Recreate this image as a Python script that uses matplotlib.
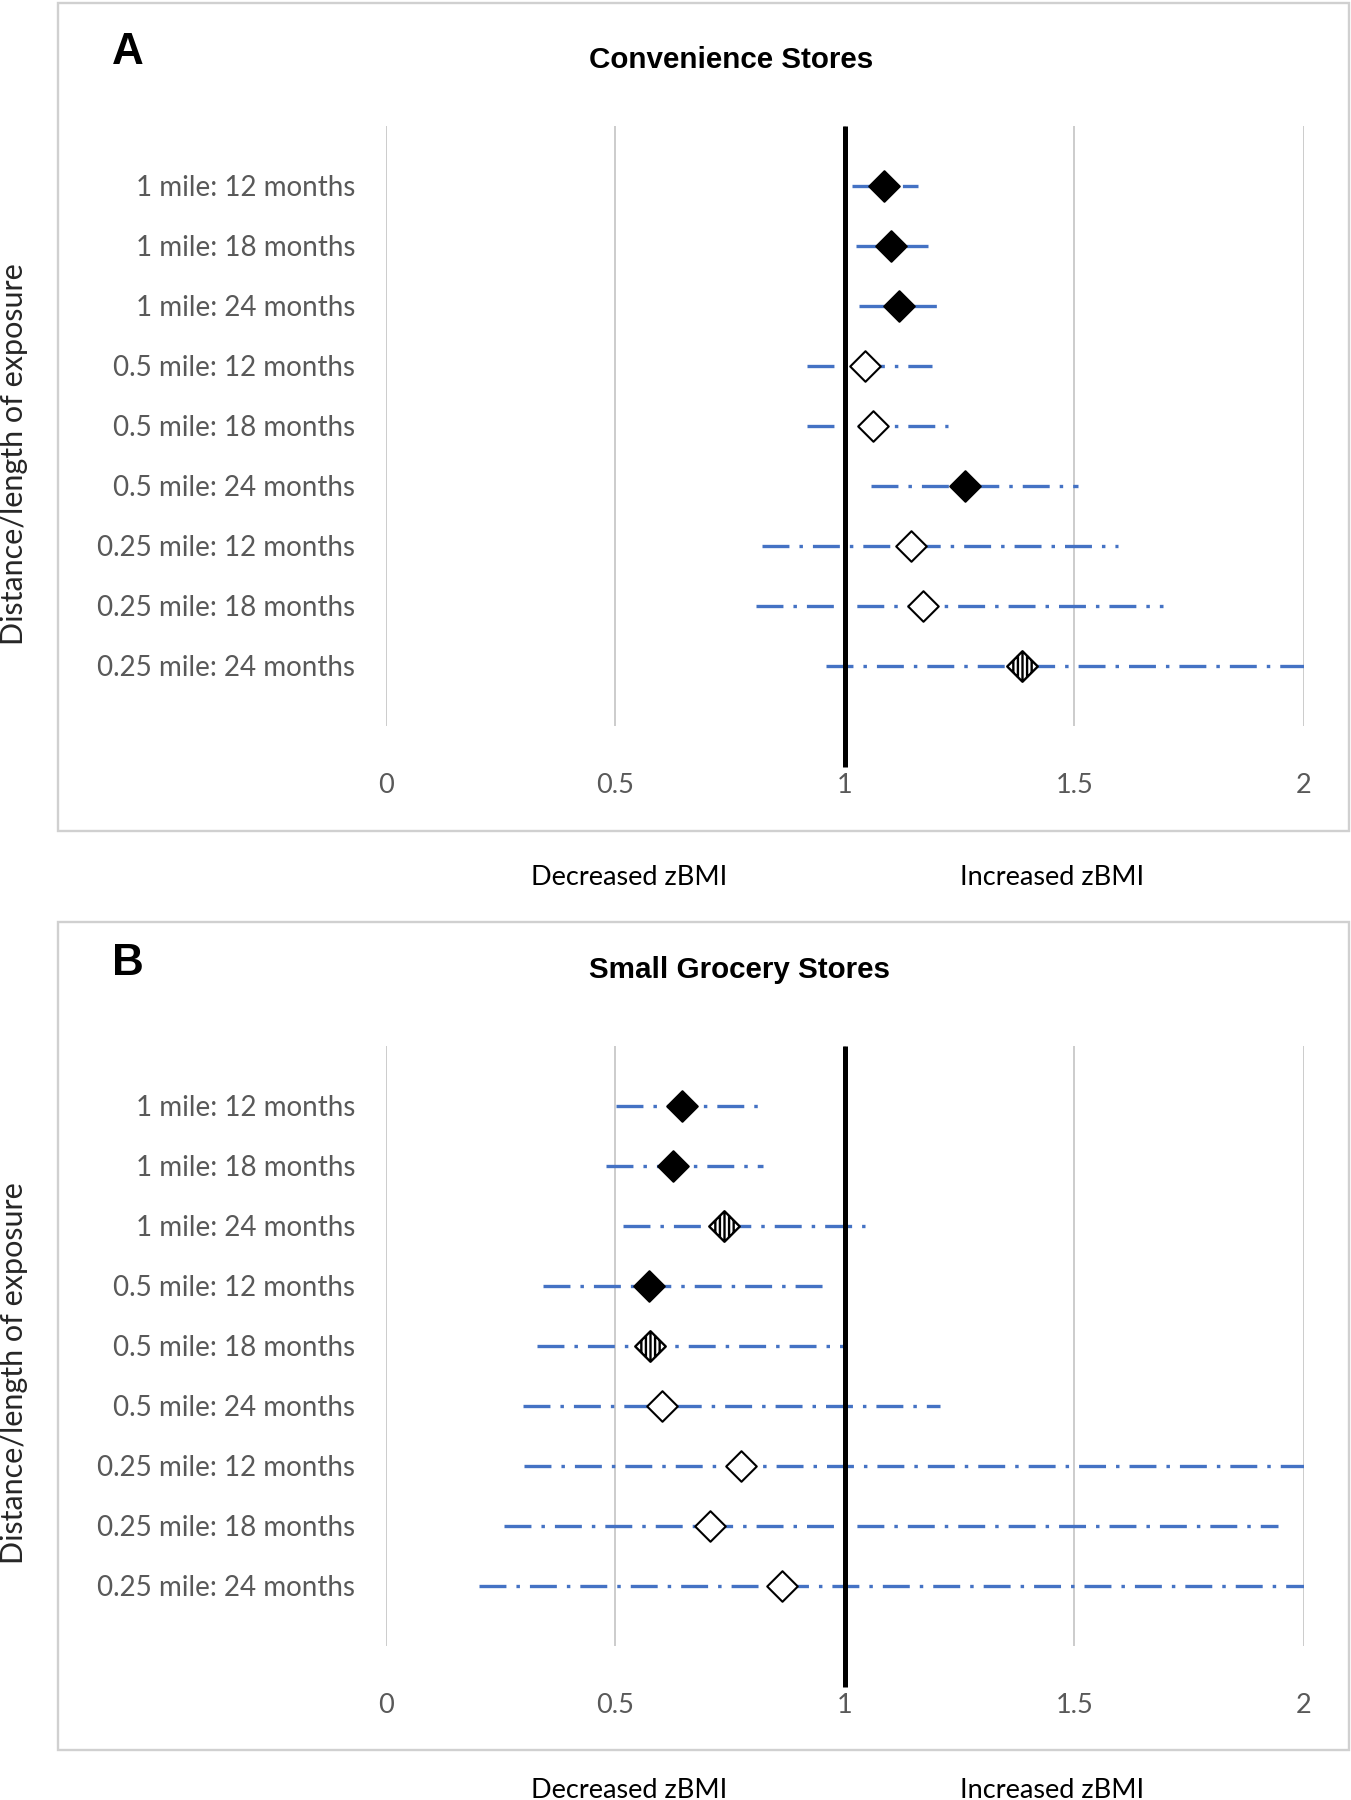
import numpy as np
import matplotlib.pyplot as plt
from matplotlib.path import Path
from matplotlib.markers import MarkerStyle
from matplotlib.patches import Rectangle

plt.rcParams['font.family'] = ['Lato', 'DejaVu Sans']
plt.rcParams['lines.scale_dashes'] = False

categories = ['1 mile: 12 months', '1 mile: 18 months', '1 mile: 24 months',
              '0.5 mile: 12 months', '0.5 mile: 18 months', '0.5 mile: 24 months',
              '0.25 mile: 12 months', '0.25 mile: 18 months', '0.25 mile: 24 months']

# panel A: convenience stores
conv_est = [1.086, 1.100, 1.118, 1.045, 1.061, 1.262, 1.144, 1.170, 1.387]
conv_lo = [1.015, 1.025, 1.032, 0.918, 0.918, 1.057, 0.819, 0.807, 0.960]
conv_hi = [1.160, 1.181, 1.201, 1.190, 1.225, 1.508, 1.596, 1.693, 2.0]
conv_sig = ['filled', 'filled', 'filled', 'open', 'open', 'filled', 'open', 'open', 'hatched']

# panel B: small grocery stores
groc_est = [0.645, 0.627, 0.736, 0.574, 0.575, 0.601, 0.775, 0.706, 0.864]
groc_lo = [0.501, 0.479, 0.516, 0.343, 0.329, 0.299, 0.302, 0.258, 0.203]
groc_hi = [0.830, 0.821, 1.044, 0.953, 1.0, 1.207, 2.0, 1.943, 2.0]
groc_sig = ['filled', 'filled', 'hatched', 'filled', 'hatched', 'open', 'open', 'open', 'open']

xticks = [0, 0.5, 1, 1.5, 2]
xtick_labels = ['0', '0.5', '1', '1.5', '2']

W, H = 1351, 1800
fig = plt.figure(figsize=(W / 100, H / 100), dpi=100)


def fx(px):
    return px / W


def fy(py):
    return 1 - py / H


# diamond markers, plain and with vertical stripes
dverts = [(0, 1), (1, 0), (0, -1), (-1, 0), (0, 1)]
dcodes = [Path.MOVETO, Path.LINETO, Path.LINETO, Path.LINETO, Path.CLOSEPOLY]
diamond = Path(dverts, dcodes)
hverts, hcodes = list(dverts), list(dcodes)
for sx in [-0.6, -0.3, 0, 0.3, 0.6]:
    hverts += [(sx, -(1 - abs(sx))), (sx, 1 - abs(sx))]
    hcodes += [Path.MOVETO, Path.LINETO]
hatched = Path(hverts, hcodes)
styles = {'filled': (diamond, 'black', 1.5), 'open': (diamond, 'white', 1.5),
          'hatched': (hatched, 'white', 1.7)}

blue = '#4472C4'
grey_txt = '#595959'
dashdot = (0, (19.4, 7.2, 2.5, 7.2))

panels = [
    dict(letter='A', title='Convenience Stores', title_x=731, title_base=68.5, letter_base=63.5,
         box=(3.3, 831), ax_top=126, ylab_y=454.5, note_base=885,
         est=conv_est, lo=conv_lo, hi=conv_hi, sig=conv_sig),
    dict(letter='B', title='Small Grocery Stores', title_x=739.5, title_base=978, letter_base=975,
         box=(921.7, 1750), ax_top=1046, ylab_y=1373, note_base=1798,
         est=groc_est, lo=groc_lo, hi=groc_hi, sig=groc_sig),
]

for p in panels:
    # chart border
    b0, b1 = p['box']
    fig.add_artist(Rectangle((fx(58.3), fy(b1)), (1348.7 - 58.3) / W, (b1 - b0) / H,
                             transform=fig.transFigure, fill=False, ec='#D0D0D0', lw=1.7))

    top = p['ax_top']
    ax = fig.add_axes([fx(385.7), fy(top + 600), (1303.7 - 385.7) / W, 600 / H])
    ax.set_xlim(0, 2)
    ax.set_ylim(0, 10)
    for s in ax.spines.values():
        s.set_visible(False)
    ax.set_xticks(xticks)
    ax.set_xticklabels(xtick_labels)
    ax.grid(axis='x', color='#CCCCCC', lw=1.4)
    ax.set_axisbelow(True)
    yk = np.arange(len(categories), 0, -1)
    ax.set_yticks(yk)
    ax.set_yticklabels(categories)
    ax.tick_params(axis='x', length=0, pad=34, labelsize=19.5, labelcolor=grey_txt)
    ax.tick_params(axis='y', length=0, pad=22, labelsize=20.0, labelcolor=grey_txt)

    for i in range(len(categories)):
        ax.plot([p['lo'][i], p['hi'][i]], [yk[i], yk[i]], color=blue, lw=2.4,
                ls=dashdot, dash_capstyle='butt', zorder=2)
    ax.plot([1, 1], [10, -0.69], color='black', lw=3.6, clip_on=False,
            solid_capstyle='butt', zorder=3)
    for i in range(len(categories)):
        path, face, ew = styles[p['sig'][i]]
        ax.plot(p['est'][i], yk[i], ls='none', marker=MarkerStyle(path, joinstyle='miter'),
                ms=22, mfc=face, mec='black', mew=ew, zorder=4)

    fig.text(fx(128), fy(p['letter_base']), p['letter'], ha='center', va='baseline',
             family='Liberation Sans', weight='bold', fontsize=31.7)
    fig.text(fx(p['title_x']), fy(p['title_base']), p['title'], ha='center', va='baseline',
             family='Liberation Sans', weight='bold', fontsize=21.3)
    fig.text(fx(14), fy(p['ylab_y']), 'Distance/length of exposure', rotation=90,
             ha='center', va='center', fontsize=22, color='#262626')
    fig.text(fx(629), fy(p['note_base']), 'Decreased zBMI', ha='center', va='baseline',
             fontsize=19.5, color='black')
    fig.text(fx(1052), fy(p['note_base']), 'Increased zBMI', ha='center', va='baseline',
             fontsize=19.5, color='black')

fig.savefig('out.png', dpi=100, facecolor='white')
